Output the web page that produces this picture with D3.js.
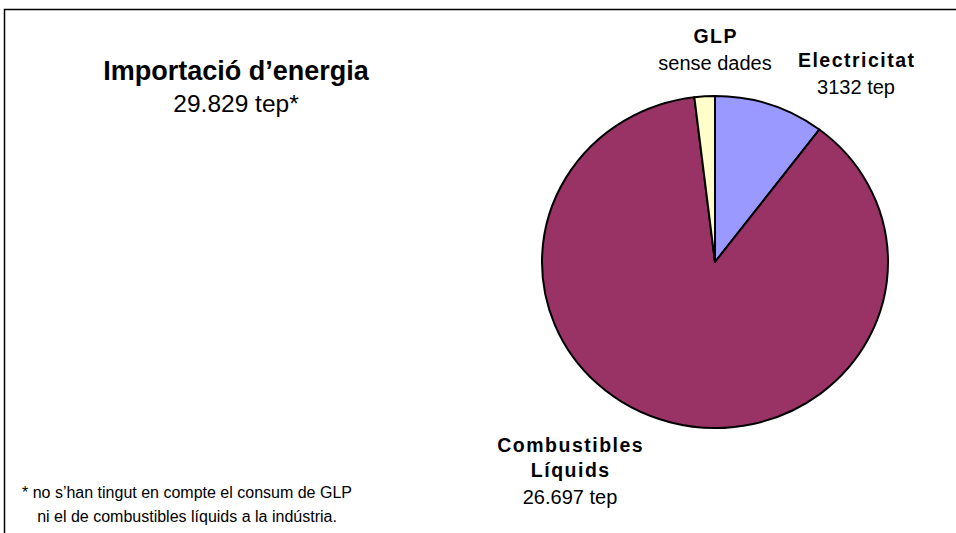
<!DOCTYPE html>
<html>
<head>
<meta charset="utf-8">
<script src="https://cdn.jsdelivr.net/npm/d3@7"></script>
<style>
  body { margin: 0; background: #fff; }
  text { font-family: Arial, "Liberation Sans", sans-serif; fill: #000; }
</style>
</head>
<body>
<script>
// slices, clockwise from 12 o'clock
var categories = ["Electricitat", "Combustibles Líquids", "GLP"];
var values = [3132, 26697, 580];   // GLP has no data, drawn as a thin sliver
var colors = ["#9999FF", "#993366", "#FFFFCC"];

var labelTitles = [["Electricitat"], ["Combustibles", "Líquids"], ["GLP"]];
var labelValues = ["3132 tep", "26.697 tep", "sense dades"];

var title = "Importació d’energia";
var subtitle = "29.829 tep*";
var footnote = ["* no s’han tingut en compte el consum de GLP", "ni el de combustibles líquids a la indústria."];

var width = 956, height = 533;
var cx = 715, cy = 262, rx = 173, ry = 166;

var svg = d3.select("body").append("svg").attr("width", width).attr("height", height);

// outer frame (cropped by the page on right and bottom)
svg.append("rect").attr("x", 4.5).attr("y", 9.5).attr("width", 1000).attr("height", 600)
   .attr("fill", "none").attr("stroke", "#000").attr("stroke-width", 1.5);

var pie = d3.pie().sort(null).value(function(d){ return d; });
var arc = d3.arc().innerRadius(0).outerRadius(rx);

var pieGroup = svg.append("g")
  .attr("transform", "translate(" + cx + "," + cy + ") scale(1," + (ry / rx) + ")");

pieGroup.selectAll("path").data(pie(values)).enter().append("path")
  .attr("d", arc)
  .attr("fill", function(d, i){ return colors[i]; })
  .attr("stroke", "#000")
  .attr("stroke-width", 2)
  .attr("stroke-linejoin", "round")
  .attr("vector-effect", "non-scaling-stroke");

// title block
svg.append("text").attr("x", 236).attr("y", 80).attr("text-anchor", "middle")
   .attr("font-size", 27).attr("font-weight", "bold").text(title);
svg.append("text").attr("x", 236).attr("y", 112).attr("text-anchor", "middle")
   .attr("font-size", 24.5).text(subtitle);

// slice labels
var labelPos = [[856, 67], [570, 452], [715, 43]];
var lh = 25;
var ls = 1.5;
labelTitles.forEach(function(lines, i){
  var g = svg.append("g").attr("transform", "translate(" + labelPos[i][0] + "," + labelPos[i][1] + ")");
  lines.forEach(function(t, j){
    g.append("text").attr("x", ls / 2).attr("y", j * lh).attr("text-anchor", "middle")
     .attr("font-size", 19.5).attr("font-weight", "bold").attr("letter-spacing", ls).text(t);
  });
  g.append("text").attr("y", lines.length * lh + 2).attr("text-anchor", "middle")
   .attr("font-size", 20).text(labelValues[i]);
});

// footnote
footnote.forEach(function(t, j){
  svg.append("text").attr("x", 187).attr("y", 498 + j * 24).attr("text-anchor", "middle")
     .attr("font-size", 16).text(t);
});
</script>
</body>
</html>
